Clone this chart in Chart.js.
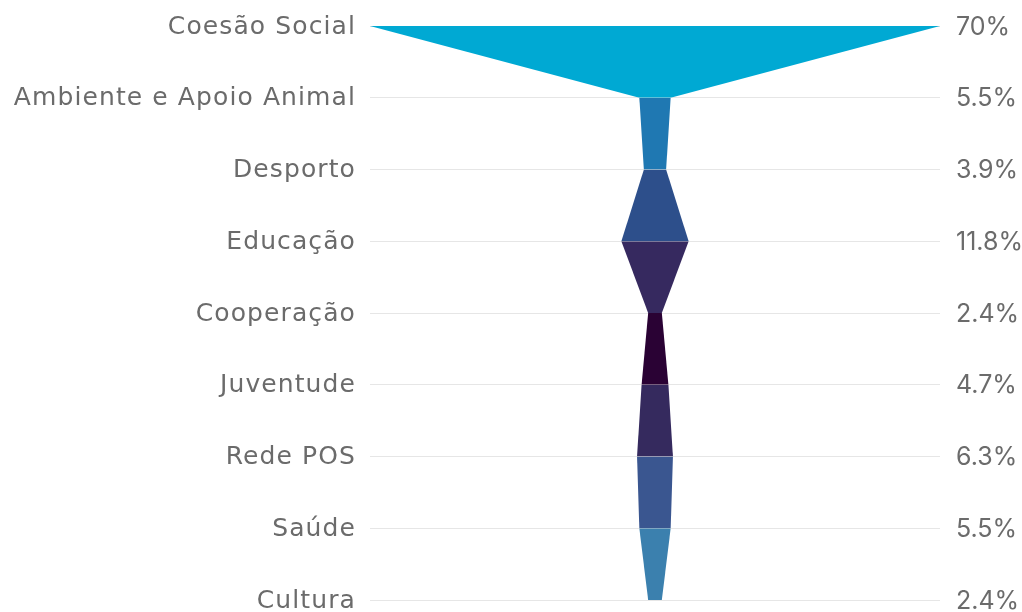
<!DOCTYPE html>
<html>
<head>
<meta charset="utf-8">
<script src="https://cdn.jsdelivr.net/npm/chart.js@4.4.1/dist/chart.umd.min.js"></script>
<style>
html,body{margin:0;padding:0;background:#ffffff;}
#wrap{width:1022px;height:612px;position:relative;}
</style>
</head>
<body>
<div id="wrap"><canvas id="c"></canvas></div>
<script>
// Categories (top to bottom)
const categories = ['Coesão Social', 'Ambiente e Apoio Animal', 'Desporto', 'Educação', 'Cooperação', 'Juventude', 'Rede POS', 'Saúde', 'Cultura'];
// Shares shown on the right axis (%)
const shareValues = [70, 5.5, 3.9, 11.8, 2.4, 4.7, 6.3, 5.5, 2.4];
// Widths drawn in the picture (first stage spans the full width)
const drawnWidths = [100, 5.5, 3.9, 11.8, 2.4, 4.7, 6.3, 5.5, 2.4];
// Colour of each band between consecutive categories
const segmentColors = ['#00A9D3', '#1F78B2', '#2D4F8B', '#36295F', '#2A0234', '#352A5E', '#3A5690', '#3B80AE'];

const valueLabels = shareValues.map(v => v + '%');

const datasets = [];
for (let i = 0; i < categories.length - 1; i++) {
  const pick = (sign) => categories.map((_, j) => (j === i || j === i + 1) ? sign * drawnWidths[j] : null);
  datasets.push({
    data: pick(-1), borderWidth: 0, pointRadius: 0, fill: false,
    borderColor: 'rgba(0,0,0,0)', backgroundColor: segmentColors[i], spanGaps: false
  });
  datasets.push({
    data: pick(1), borderWidth: 0, pointRadius: 0, fill: '-1',
    borderColor: 'rgba(0,0,0,0)', backgroundColor: segmentColors[i], spanGaps: false
  });
}

const textColor = '#6b6b6b';
const LEFT_SPACING = '1.1px';

const spacingPlugin = {
  id: 'spacing',
  beforeInit(chart) { chart.ctx.letterSpacing = LEFT_SPACING; },
  beforeUpdate(chart) { chart.ctx.letterSpacing = LEFT_SPACING; },
  beforeDraw(chart) { chart.ctx.letterSpacing = LEFT_SPACING; },
  afterLayout(chart) {
    const s = chart.scales.y2;
    if (s && !s._noSpacingWrap) {
      const orig = s.drawLabels;
      s.drawLabels = function (area) {
        const c = this.ctx;
        const prev = c.letterSpacing;
        c.letterSpacing = '0px';
        orig.call(this, area);
        c.letterSpacing = prev;
      };
      s._noSpacingWrap = true;
    }
  }
};

new Chart(document.getElementById('c'), {
  type: 'line',
  data: { labels: categories, datasets },
  plugins: [spacingPlugin],
  options: {
    indexAxis: 'y',
    responsive: true,
    maintainAspectRatio: false,
    animation: false,
    layout: { padding: { top: 26, bottom: 12, left: 0, right: 0 } },
    plugins: { legend: { display: false }, tooltip: { enabled: false } },
    scales: {
      x: { type: 'linear', min: -100, max: 100, display: false },
      y: {
        type: 'category', position: 'left', offset: false,
        grid: { color: '#e6e6e6', lineWidth: 1, drawTicks: false },
        border: { display: false },
        ticks: { font: { family: 'DejaVu Sans', size: 25 }, color: textColor, padding: 14, labelOffset: 1 },
        afterFit: (s) => { s.width = 370; s.paddingTop = 0; s.paddingBottom = 0; }
      },
      y2: {
        type: 'category', position: 'right', offset: false, labels: valueLabels,
        grid: { display: false, drawTicks: false },
        border: { display: false },
        ticks: { font: { family: 'Inter', size: 25 }, color: textColor, padding: 16, labelOffset: 1 },
        afterFit: (s) => { s.width = 82; s.paddingTop = 0; s.paddingBottom = 0; }
      }
    }
  }
});
</script>
</body>
</html>
